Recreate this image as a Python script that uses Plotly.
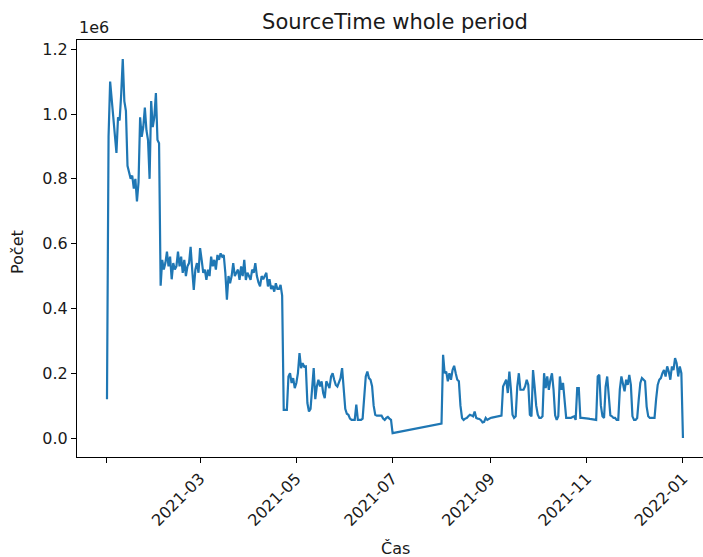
import pandas as pd
import plotly.graph_objects as go

# ---- data (values in millions, daily) ----
seg1_start = "2021-01-01"
seg1_values_m = [
    0.12, 0.93, 1.10, 1.05, 1.00, 0.95, 0.88, 0.99, 0.98, 1.06,
    1.17, 1.04, 1.01, 0.84, 0.82, 0.80, 0.81, 0.77, 0.80, 0.73,
    0.79, 0.99, 0.93, 0.96, 1.02, 0.95, 0.92, 0.80, 1.04, 0.96,
    0.99, 1.065, 0.92, 0.91, 0.47, 0.55, 0.52, 0.54, 0.575, 0.53,
    0.56, 0.49, 0.54, 0.52, 0.53, 0.575, 0.53, 0.56, 0.51, 0.55,
    0.50, 0.53, 0.54, 0.59, 0.52, 0.457, 0.52, 0.54, 0.51, 0.586,
    0.55, 0.51, 0.52, 0.488, 0.52, 0.50, 0.56, 0.53, 0.55, 0.52,
    0.565, 0.55, 0.57, 0.56, 0.565, 0.51, 0.427, 0.50, 0.478, 0.50,
    0.54, 0.50, 0.51, 0.52, 0.488, 0.53, 0.50, 0.55, 0.488, 0.51,
    0.50, 0.488, 0.52, 0.51, 0.54, 0.50, 0.48, 0.468, 0.50, 0.49,
    0.50, 0.51, 0.468, 0.49, 0.46, 0.47, 0.452, 0.478, 0.46, 0.46,
    0.473, 0.44, 0.087, 0.087, 0.087, 0.19, 0.20, 0.17, 0.185, 0.154,
    0.17, 0.20, 0.262, 0.216, 0.231, 0.22, 0.221, 0.108, 0.082, 0.09,
    0.159, 0.216, 0.12, 0.16, 0.18, 0.159, 0.175, 0.139, 0.123, 0.175,
    0.165, 0.154, 0.19, 0.20, 0.18, 0.164, 0.159, 0.175, 0.185, 0.216,
    0.149, 0.09, 0.075, 0.072, 0.06, 0.056, 0.056, 0.056, 0.103, 0.056,
    0.056, 0.056, 0.06, 0.128, 0.19, 0.205, 0.185, 0.18, 0.16, 0.10,
    0.072, 0.069, 0.069, 0.069, 0.069, 0.06, 0.056, 0.062, 0.065, 0.060,
    0.056, 0.015,
]
seg2_start = "2021-08-01"
seg2_values_m = [
    0.045, 0.257, 0.20, 0.205, 0.175, 0.20, 0.18, 0.21, 0.223, 0.20,
    0.18, 0.175, 0.10, 0.062, 0.056, 0.06, 0.062, 0.067, 0.072, 0.07,
    0.067, 0.082, 0.062, 0.06, 0.059, 0.055, 0.048, 0.05, 0.062, 0.056,
    0.06, 0.062, 0.063, 0.064, 0.065, 0.065, 0.066, 0.067, 0.069, 0.159,
    0.17, 0.18, 0.139, 0.205, 0.149, 0.072, 0.062, 0.067, 0.159, 0.20,
    0.149, 0.149, 0.149, 0.16, 0.18, 0.164, 0.072, 0.067, 0.21, 0.159,
    0.10, 0.072, 0.062, 0.062, 0.067, 0.20, 0.154, 0.19, 0.149, 0.18,
    0.20, 0.149, 0.07, 0.056, 0.067, 0.19, 0.149, 0.17, 0.10, 0.062,
    0.062, 0.062, 0.062, 0.065, 0.067, 0.056, 0.154, 0.154, 0.062, 0.062,
    0.062, 0.061, 0.060, 0.060, 0.059, 0.058, 0.057, 0.056, 0.056, 0.19,
    0.195, 0.10, 0.067, 0.062, 0.159, 0.19, 0.139, 0.07, 0.067, 0.062,
    0.062, 0.056, 0.056, 0.15, 0.19, 0.17, 0.144, 0.18, 0.164, 0.195,
    0.164, 0.067, 0.056, 0.056, 0.062, 0.12, 0.17, 0.185, 0.18, 0.175,
    0.097, 0.067, 0.062, 0.062, 0.062, 0.062, 0.12, 0.164, 0.18, 0.185,
    0.20, 0.21, 0.19, 0.221, 0.205, 0.18, 0.221, 0.21, 0.247, 0.231,
    0.19, 0.221, 0.20, 0.0,
]

x_tick_dates = ["2021-01-01", "2021-03-01", "2021-05-01", "2021-07-01",
                "2021-09-01", "2021-11-01", "2022-01-01"]
x_tick_labels = ["", "2021-03", "2021-05", "2021-07", "2021-09", "2021-11", "2022-01"]
y_tick_values_m = [0.0, 0.2, 0.4, 0.6, 0.8, 1.0, 1.2]
y_tick_labels = ["0.0", "0.2", "0.4", "0.6", "0.8", "1.0", "1.2"]

title_text = "SourceTime whole period"
x_label = "Čas"
y_label = "Počet"
scale_label = "1e6"
SCALE = 1e6

# ---- build ----
dates = list(pd.date_range(seg1_start, periods=len(seg1_values_m), freq="D")) + \
        list(pd.date_range(seg2_start, periods=len(seg2_values_m), freq="D"))
values = [v * SCALE for v in seg1_values_m + seg2_values_m]

W, H = 703, 557
ML, MR, MT, MB = 77, 0, 40, 100
font_family = "DejaVu Sans"
txt_color = "#1a1a1a"

fig = go.Figure()
fig.add_trace(go.Scatter(x=dates, y=values, mode="lines",
                         line=dict(color="#1f77b4", width=2.2),
                         showlegend=False, hoverinfo="skip"))

fig.update_layout(
    width=W, height=H,
    margin=dict(l=ML, r=MR, t=MT, b=MB, pad=0),
    plot_bgcolor="white", paper_bgcolor="white",
    font=dict(family=font_family, size=16, color=txt_color),
    title=dict(text=title_text, x=395 / W, xref="container", xanchor="center",
               y=1 - 22 / H, yref="container", yanchor="middle",
               font=dict(size=21, family=font_family, color=txt_color)),
    xaxis=dict(
        type="date",
        range=["2020-12-13", "2022-01-13 17:00"],
        tickvals=x_tick_dates, ticktext=x_tick_labels,
        tickangle=-45,
        ticks="outside", ticklen=5, tickwidth=1, tickcolor="black",
        showline=True, linecolor="black", linewidth=1, mirror=True,
        showgrid=False, zeroline=False,
        tickfont=dict(size=16, family=font_family, color=txt_color),
    ),
    yaxis=dict(
        range=[-0.0585 * SCALE, 1.2285 * SCALE],
        tickvals=[v * SCALE for v in y_tick_values_m], ticktext=y_tick_labels,
        ticks="outside", ticklen=5, tickwidth=1, tickcolor="black",
        showline=True, linecolor="black", linewidth=1, mirror=False,
        showgrid=False, zeroline=False,
        tickfont=dict(size=16, family=font_family, color=txt_color),
    ),
)

plot_w = W - ML - MR
plot_h = H - MT - MB
fig.add_annotation(text=scale_label, xref="paper", yref="paper", x=0, y=1,
                   xanchor="left", yanchor="bottom", yshift=1, showarrow=False,
                   font=dict(size=16, family=font_family, color=txt_color))
fig.add_annotation(text=y_label, xref="paper", yref="paper",
                   x=(18 - ML) / plot_w, y=(H - MB - 252) / plot_h,
                   xanchor="center", yanchor="middle", textangle=-90, showarrow=False,
                   font=dict(size=16, family=font_family, color=txt_color))
fig.add_annotation(text=x_label, xref="paper", yref="paper",
                   x=(395 - ML) / plot_w, y=(H - MB - 548) / plot_h,
                   xanchor="center", yanchor="middle", showarrow=False,
                   font=dict(size=16, family=font_family, color=txt_color))

fig.write_html("out.html")
